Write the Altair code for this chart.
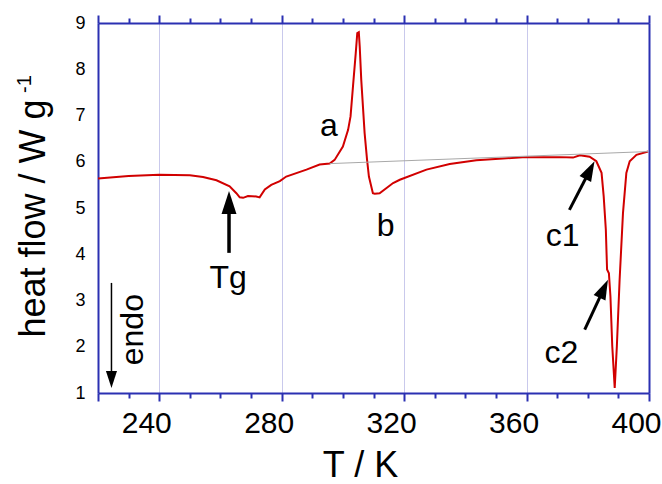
import math
import altair as alt
import pandas as pd

FONT = "Liberation Sans"
AXIS_BLUE = "#2b30b2"
TRACE_RED = "#d10000"

# DSC heating trace: temperature (K) and heat flow (W/g)
temp_K = [220.0, 230.0, 240.0, 250.0, 254.3, 258.7, 263.0, 265.2, 266.3, 267.4,
          269.0, 271.7, 272.8, 274.5, 276.6, 279.4, 281.5, 288.1, 292.4, 295.7,
          297.3, 300.0, 301.7, 302.5, 303.3, 304.2, 304.7, 305.2, 305.5, 306.0,
          307.1, 307.9, 308.5, 309.8, 310.4, 312.0, 316.4, 318.6, 327.3, 334.9,
          343.6, 352.3, 359.9, 370.8, 375.2, 377.4, 380.6, 382.8, 384.5, 385.2,
          385.9, 386.3, 386.9, 387.4, 388.0, 388.8, 389.5, 390.4, 391.5, 392.6,
          393.7, 395.9, 399.7]
heat_flow = [5.64, 5.69, 5.72, 5.71, 5.67, 5.60, 5.47, 5.32, 5.23, 5.22,
             5.26, 5.25, 5.23, 5.40, 5.50, 5.58, 5.68, 5.83, 5.94, 5.96,
             6.04, 6.33, 6.69, 6.98, 7.63, 8.35, 8.78, 8.80, 8.49, 7.77,
             6.62, 6.04, 5.68, 5.32, 5.31, 5.32, 5.54, 5.61, 5.83, 5.95,
             6.03, 6.07, 6.10, 6.10, 6.09, 6.14, 6.11, 6.01, 5.76, 5.25,
             4.53, 3.67, 3.59, 3.09, 2.01, 1.11, 2.01, 3.45, 4.89, 5.76,
             6.01, 6.15, 6.22]

# extrapolated baseline under the transitions
base_T = [295.7, 399.7]
base_HF = [5.96, 6.22]

# event labels
label_text = ["a", "b", "Tg", "c1", "c2"]
label_T = [295.4, 314.0, 262.5, 371.8, 371.4]
label_HF = [6.55, 4.40, 3.26, 4.17, 1.65]

# arrows (tail -> tip)
arrow_tail_T = [262.8, 374.0, 379.0, 224.4]
arrow_tail_HF = [4.03, 4.96, 2.37, 3.38]
arrow_tip_T = [262.8, 382.2, 386.6, 224.4]
arrow_tip_HF = [5.37, 6.01, 3.45, 1.11]
arrow_head_len = [23, 20, 20, 17]
arrow_stem_w = [3.5, 3.0, 3.0, 1.5]

W, H = 551, 370
T_MIN, T_MAX = 220, 400
HF_MIN, HF_MAX = 1, 9
PX_T = W / (T_MAX - T_MIN)
PX_HF = H / (HF_MAX - HF_MIN)

x_scale = alt.Scale(domain=[T_MIN, T_MAX], nice=False, zero=False)
y_scale = alt.Scale(domain=[HF_MIN, HF_MAX], nice=False, zero=False)

trace = pd.DataFrame({"T": temp_K, "HF": heat_flow})
baseline = pd.DataFrame({"T": base_T, "HF": base_HF})
labels = pd.DataFrame({"T": label_T, "HF": label_HF, "txt": label_text})

# arrow geometry: head rotation and stem end, tip stays at the data point
rows = []
for tT, tH, pT, pH, L, sw in zip(arrow_tail_T, arrow_tail_HF, arrow_tip_T,
                                 arrow_tip_HF, arrow_head_len, arrow_stem_w):
    dx = (pT - tT) * PX_T
    dy = (pH - tH) * PX_HF
    ang = math.atan2(dx, dy)
    back = 0.6 * L
    rows.append({
        "T0": tT, "H0": tH, "T1": pT, "H1": pH,
        "Ts": pT - back * math.sin(ang) / PX_T,
        "Hs": pH - back * math.cos(ang) / PX_HF,
        "angle": math.degrees(ang) % 360,
        "size": L * L,
        "sw": sw,
    })
arrows = pd.DataFrame(rows)

tick_values = list(range(T_MIN, T_MAX + 1, 10))
major_test = "datum.value % 40 === 0 || datum.value === 220"
tick_len = {"condition": {"test": major_test, "value": 8}, "value": 5}

x_bottom = alt.Axis(
    orient="bottom", values=tick_values, title="T / K",
    labelExpr="datum.value % 40 === 0 && datum.value > 220 ? datum.label : ''",
    labelFont=FONT, labelFontSize=30, labelColor="black", labelPadding=7,
    labelOffset=-13, labelFlush=False, labelOverlap=False,
    tickSize=tick_len, tickColor=AXIS_BLUE, tickWidth=2,
    domainColor=AXIS_BLUE, domainWidth=2,
    grid=True, gridColor="#c9c9ec", gridWidth=1,
    gridOpacity={"condition": {"test": "datum.value % 40 === 0 && datum.value > 220 && datum.value < 400",
                               "value": 1}, "value": 0},
    titleFont=FONT, titleFontSize=36, titleFontWeight="normal", titleColor="black",
    titleX=262, titleY=83, titleAlign="center", titleBaseline="alphabetic",
)
x_top = alt.Axis(
    orient="top", values=tick_values, title=None, labels=False,
    tickSize=tick_len, tickColor=AXIS_BLUE, tickWidth=2,
    domainColor=AXIS_BLUE, domainWidth=2, grid=False,
)
y_left = alt.Axis(
    orient="left", values=list(range(1, 10)), title="heat flow / W g",
    ticks=False, tickSize=0, labelPadding=13,
    labelFont=FONT, labelFontSize=18, labelColor="black",
    domainColor=AXIS_BLUE, domainWidth=2, grid=False,
    titleFont=FONT, titleFontSize=36, titleFontWeight="normal", titleColor="black",
    titleX=-54, titleY=195, titleAngle=270, titleAlign="center",
    titleBaseline="alphabetic",
)
y_right = alt.Axis(
    orient="right", title=None, labels=False, ticks=False,
    domainColor=AXIS_BLUE, domainWidth=2, grid=False,
)

curve = alt.Chart(trace).mark_line(color=TRACE_RED, strokeWidth=2).encode(
    x=alt.X("T:Q", scale=x_scale, axis=x_bottom),
    y=alt.Y("HF:Q", scale=y_scale, axis=y_left),
)

base = alt.Chart(baseline).mark_line(color="#a8a8a8", strokeWidth=1).encode(
    x=alt.X("T:Q", scale=x_scale, axis=x_top),
    y=alt.Y("HF:Q", scale=y_scale, axis=y_right),
)

stems = alt.Chart(arrows).mark_rule(color="black").encode(
    x=alt.X("T0:Q", scale=x_scale, axis=None),
    y=alt.Y("H0:Q", scale=y_scale, axis=None),
    x2="Ts:Q", y2="Hs:Q",
    strokeWidth=alt.StrokeWidth("sw:Q", scale=None),
)

heads = alt.Chart(arrows).mark_point(
    shape="M0,0L0.65,2L-0.65,2Z", filled=True, color="black", opacity=1,
    strokeWidth=0,
).encode(
    x=alt.X("T1:Q", scale=x_scale, axis=None),
    y=alt.Y("H1:Q", scale=y_scale, axis=None),
    angle=alt.Angle("angle:Q", scale=None),
    size=alt.Size("size:Q", scale=None),
)

texts = alt.Chart(labels).mark_text(
    font=FONT, fontSize=32, color="black", align="center", baseline="alphabetic",
).encode(
    x=alt.X("T:Q", scale=x_scale, axis=None),
    y=alt.Y("HF:Q", scale=y_scale, axis=None),
    text="txt:N",
)

endo = alt.Chart(pd.DataFrame({"T": [234.7], "HF": [2.37], "txt": ["endo"]})).mark_text(
    font=FONT, fontSize=32, color="black", align="center", baseline="alphabetic", angle=270,
).encode(
    x=alt.X("T:Q", scale=x_scale, axis=None),
    y=alt.Y("HF:Q", scale=y_scale, axis=None),
    text="txt:N",
)

# superscript exponent of the y-axis unit
sup = alt.Chart(pd.DataFrame({"txt": ["-1"]})).mark_text(
    font=FONT, fontSize=20, color="black", align="center", baseline="alphabetic", angle=270,
).encode(
    x=alt.value(-67), y=alt.value(61), text="txt:N",
)

chart = alt.layer(curve, base, stems, heads, texts, endo, sup).resolve_axis(
    x="independent", y="independent"
).properties(
    width=W, height=H,
    padding={"left": 98, "top": 23, "right": 13, "bottom": 91},
    autosize=alt.AutoSizeParams(type="none"),
    background="white",
).configure_view(stroke=None)

chart.save("out.html", embed_options={"renderer": "svg", "actions": False})
